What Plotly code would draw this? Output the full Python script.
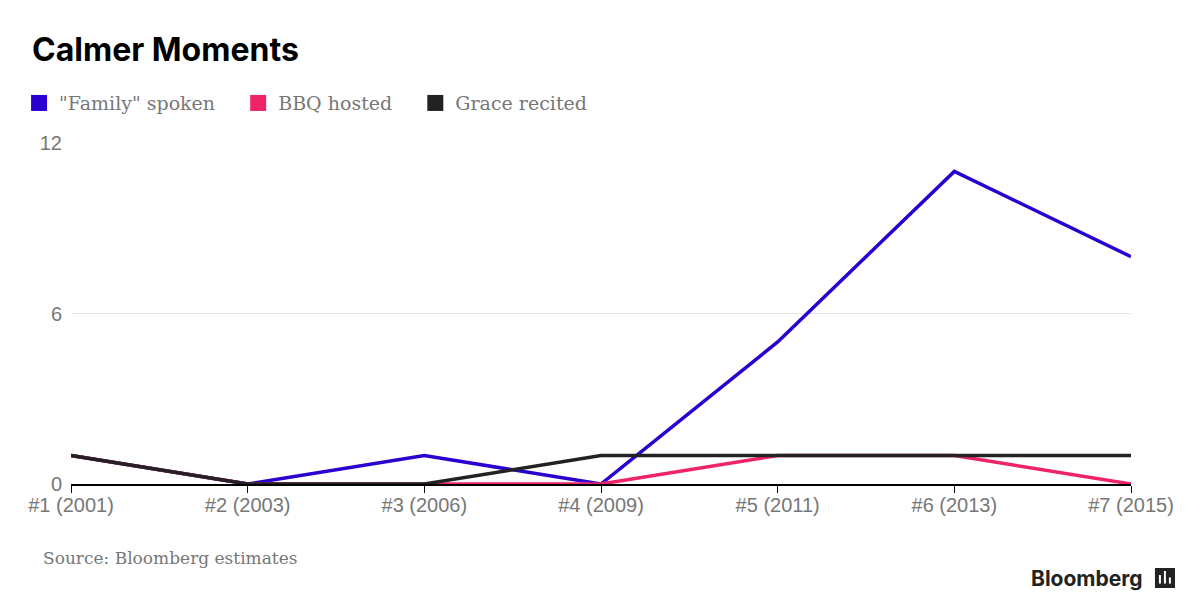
import plotly.graph_objects as go

# 資料
debates = ['#1 (2001)', '#2 (2003)', '#3 (2006)', '#4 (2009)', '#5 (2011)', '#6 (2013)', '#7 (2015)']
family_spoken = [1, 0, 1, 0, 5, 11, 8]
bbq_hosted = [1, 0, 0, 0, 1, 1, 0]
grace_recited = [1, 0, 0, 1, 1, 1, 1]

series_names = ['"Family" spoken', 'BBQ hosted', 'Grace recited']
series_colors = ['#2a00d0', '#f0236a', '#222222']

fig = go.Figure()

# 線 (畫的順序: 藍, 粉, 黑)
for name, vals, color in zip(series_names, [family_spoken, bbq_hosted, grace_recited], series_colors):
    fig.add_trace(go.Scatter(x=debates, y=vals, mode='lines', name=name,
                             line=dict(color=color, width=3.5), showlegend=False,
                             cliponaxis=False))

# 圖例用方塊 (名稱後面加空白拉開間距)
for name, color in zip(series_names, series_colors):
    fig.add_trace(go.Scatter(x=[None], y=[None], mode='markers', name=name + '\u00a0\u00a0\u00a0',
                             marker=dict(symbol='square', size=18, color=color)))

fig.update_layout(
    width=1200, height=616,
    margin=dict(l=62, r=77, t=135, b=140),
    paper_bgcolor='white', plot_bgcolor='white',
    title=dict(text='<b>Calmer Moments</b>', x=0.02, xanchor='left', y=0.932, yanchor='middle',
               font=dict(family='Inter, Liberation Sans, sans-serif', size=32, color='#000')),
    legend=dict(orientation='h', x=-0.048, xanchor='left', y=1.117, yanchor='middle',
                font=dict(family='DejaVu Serif, serif', size=19, color='#777'),
                itemsizing='trace', tracegroupgap=0, bgcolor='rgba(0,0,0,0)'),
    showlegend=True,
)

fig.update_xaxes(type='category', range=[0, 6], showgrid=False, showline=True, linecolor='#000',
                 linewidth=1.5, ticks='outside', ticklen=7, tickcolor='#000', tickwidth=1,
                 ticklabelstandoff=-5,
                 tickfont=dict(family='Liberation Sans, Arial, sans-serif', size=20, color='#777'),
                 zeroline=False, fixedrange=True)
fig.update_yaxes(range=[0, 12], dtick=6, showgrid=True, gridcolor='#e6e6e6', gridwidth=1,
                 zeroline=False, showline=False, ticks='', ticklabelstandoff=8,
                 tickfont=dict(family='Liberation Sans, Arial, sans-serif', size=20, color='#777'),
                 fixedrange=True)

# 資料來源
fig.add_annotation(text='Source: Bloomberg estimates', xref='paper', yref='paper', x=-0.0283, y=-0.217,
                   xanchor='left', yanchor='middle', showarrow=False,
                   font=dict(family='DejaVu Serif, serif', size=17, color='#777'))

# Bloomberg 標誌
fig.add_annotation(text='<b>Bloomberg</b>', xref='paper', yref='paper', x=1.0132, y=-0.2757,
                   xanchor='right', yanchor='middle', showarrow=False,
                   font=dict(family='Inter, Liberation Sans, sans-serif', size=21, color='#222'))
fig.add_shape(type='rect', xref='paper', yref='paper', x0=1.0226, x1=1.0415, y0=-0.305, y1=-0.2463,
              fillcolor='#222', line=dict(width=0))
for bx, bh in [(1.0273, 0.025), (1.032, 0.037), (1.0367, 0.018)]:
    fig.add_shape(type='line', xref='paper', yref='paper', x0=bx, x1=bx, y0=-0.292, y1=-0.292 + bh,
                  line=dict(color='white', width=2))

fig.write_html('out.html')
